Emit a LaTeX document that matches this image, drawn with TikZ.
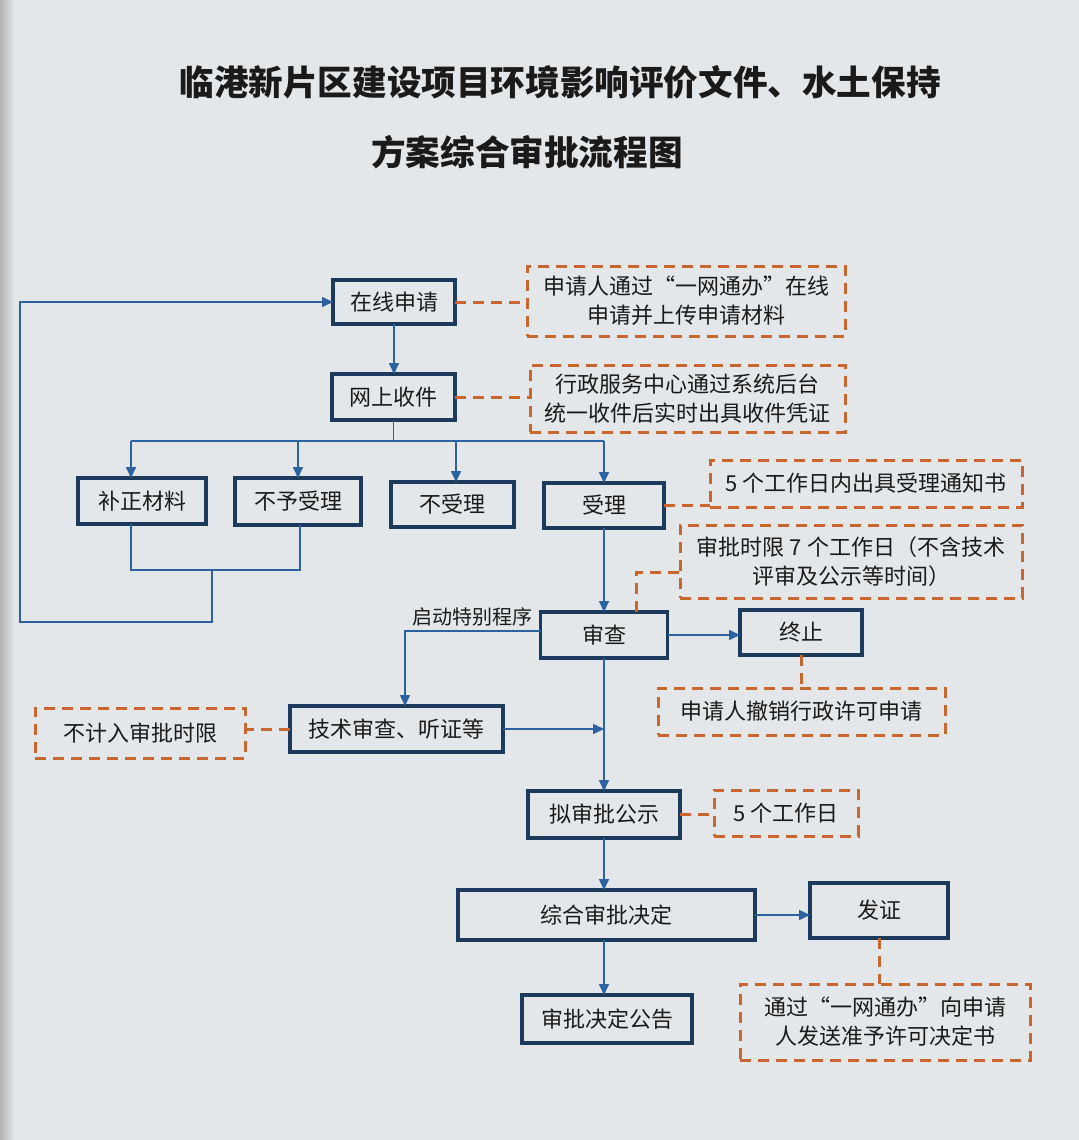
\documentclass[tikz,border=0pt]{standalone}
\usepackage{fontspec}
\newfontfamily\cjk{Noto Sans CJK SC}
\usetikzlibrary{arrows.meta}
\definecolor{paper}{HTML}{E3E7EA}
\definecolor{edge}{HTML}{1C3A5C}
\definecolor{link}{HTML}{2D62A0}
\definecolor{note}{HTML}{C8662E}
\definecolor{ink}{HTML}{1A1A1A}
\begin{document}
\begin{tikzpicture}[x=0.5pt,y=-0.5pt,
  box/.style={draw=edge, line width=1.7pt, inner sep=0pt, outer sep=0pt, text=ink,
    font=\cjk\fontsize{11}{14}\selectfont, align=center},
  notebox/.style={draw=note, line width=1.5pt, dash pattern=on 5.5pt off 3.5pt, inner sep=0pt, outer sep=0pt,
    text=ink, font=\cjk\fontsize{11}{14.5}\selectfont, align=center},
  arr/.style={draw=link, line width=0.8pt, -{Triangle[length=5.5pt,width=5pt]}},
  ln/.style={draw=link, line width=0.8pt},
  dsh/.style={draw=note, line width=1.5pt, dash pattern=on 5.5pt off 3.5pt}]
\fill[paper] (0,0) rectangle (1079,1140);
\fill[left color=black!30, right color=paper] (0,0) rectangle (14,1140);
\useasboundingbox (0,0) rectangle (1079,1140);

% title
\node[font=\cjk\bfseries\fontsize{17.3}{20}\selectfont, text=ink] (t1) at (560,82) {临港新片区建设项目环境影响评价文件、水土保持};
\node[font=\cjk\bfseries\fontsize{17.3}{20}\selectfont, text=ink] (t2) at (527,152) {方案综合审批流程图};

% main boxes
\node[box, minimum width=61pt, minimum height=22pt] (zx) at (394,302) {在线申请};
\node[box, minimum width=61.5pt, minimum height=23pt] (ws) at (393.5,397) {网上收件};
\node[box, minimum width=64pt, minimum height=23pt] (bz) at (142,501) {补正材料};
\node[box, minimum width=63pt, minimum height=23.5pt] (by) at (298,501.5) {不予受理};
\node[box, minimum width=61.5pt, minimum height=22.5pt] (bs) at (452.5,504.5) {不受理};
\node[box, minimum width=60pt, minimum height=22.5pt] (sl) at (604,505.5) {受理};
\node[box, minimum width=63.5pt, minimum height=23pt] (sc) at (604,635) {审查};
\node[box, minimum width=61pt, minimum height=22.5pt] (zz) at (801,632.5) {终止};
\node[box, minimum width=106.5pt, minimum height=23pt] (js) at (396.5,729) {技术审查、听证等};
\node[box, minimum width=76pt, minimum height=23.5pt] (ns) at (604,814.5) {拟审批公示};
\node[box, minimum width=148.5pt, minimum height=25pt] (zh) at (606.5,915) {综合审批决定};
\node[box, minimum width=69pt, minimum height=27.5pt] (fz) at (879,910.5) {发证};
\node[box, minimum width=85pt, minimum height=24pt] (gg) at (607,1019) {审批决定公告};

% note boxes
\node[notebox, minimum width=159pt, minimum height=35pt] (n1) at (686,301) {申请人通过“一网通办”在线\\申请并上传申请材料};
\node[notebox, minimum width=157.5pt, minimum height=33.5pt] (n2) at (687.5,398.5) {行政服务中心通过系统后台\\统一收件后实时出具收件凭证};
\node[notebox, minimum width=156pt, minimum height=23.5pt] (n3) at (866,483.5) {5 个工作日内出具受理通知书};
\node[notebox, minimum width=171pt, minimum height=36.5pt] (n4) at (851,561.5) {审批时限 7 个工作日（不含技术\\评审及公示等时间）};
\node[notebox, minimum width=143.5pt, minimum height=23.5pt] (n5) at (801.5,711.5) {申请人撤销行政许可申请};
\node[notebox, minimum width=105pt, minimum height=25pt] (n6) at (140,733) {不计入审批时限};
\node[notebox, minimum width=72pt, minimum height=23pt] (n7) at (786,813) {5 个工作日};
\node[notebox, minimum width=145pt, minimum height=38pt] (n8) at (885,1022) {通过“一网通办”向申请\\人发送准予许可决定书};

% coordinates
\coordinate (b1) at (131,441);
\coordinate (b2) at (298,441);
\coordinate (b3) at (456,441);
\coordinate (b4) at (604,441);
\coordinate (l1) at (131,570);
\coordinate (l2) at (300,570);
\coordinate (l3) at (212,570);
\coordinate (l4) at (20,622);
\coordinate (jt) at (405,706);
\coordinate (c4) at (636,572);
\coordinate (sw) at (541,631);

% flow connectors
\draw[arr] (zx.south) -- (zx.south |- ws.north);
\draw[ln] (ws.south) -- (ws.south |- b1);
\draw[ln] (b1) -- (b4);
\draw[arr] (b1) -- (b1 |- bz.north);
\draw[arr] (b2) -- (b2 |- by.north);
\draw[arr] (b3) -- (b3 |- bs.north);
\draw[arr] (b4) -- (sl.north);
\draw[ln] (l1 |- bz.south) -- (l1) -- (l2) -- (l2 |- by.south);
\draw[arr] (l3) |- (l4) |- (zx.west);
\draw[arr] (sl.south) -- (sc.north);
\draw[arr] (sw) -| (jt);
\node[font=\cjk\fontsize{10}{12}\selectfont, text=ink] (qd) at (472,617) {启动特别程序};
\draw[arr] (sc.east) -- (sc.east -| zz.west);
\draw[arr] (sc.south) -- (ns.north);
\draw[arr] (js.east) -- (js.east -| sc.south);
\draw[arr] (ns.south) -- (ns.south |- zh.north);
\draw[arr] (zh.east) -- (zh.east -| fz.west);
\draw[arr] (ns.south |- zh.south) -- (ns.south |- gg.north);

% note connectors
\draw[dsh] (zx.east) -- (zx.east -| n1.west);
\draw[dsh] (ws.east) -- (ws.east -| n2.west);
\draw[dsh] (sl.east) -- (sl.east -| n3.west);
\draw[dsh] (c4 |- sc.north) -- (c4) -- (c4 -| n4.west);
\draw[dsh] (zz.south) -- (zz.south |- n5.north);
\draw[dsh] (js.west) -- (js.west -| n6.east);
\draw[dsh] (ns.east) -- (ns.east -| n7.west);
\draw[dsh] (fz.south) -- (fz.south |- n8.north);
\end{tikzpicture}
\end{document}
